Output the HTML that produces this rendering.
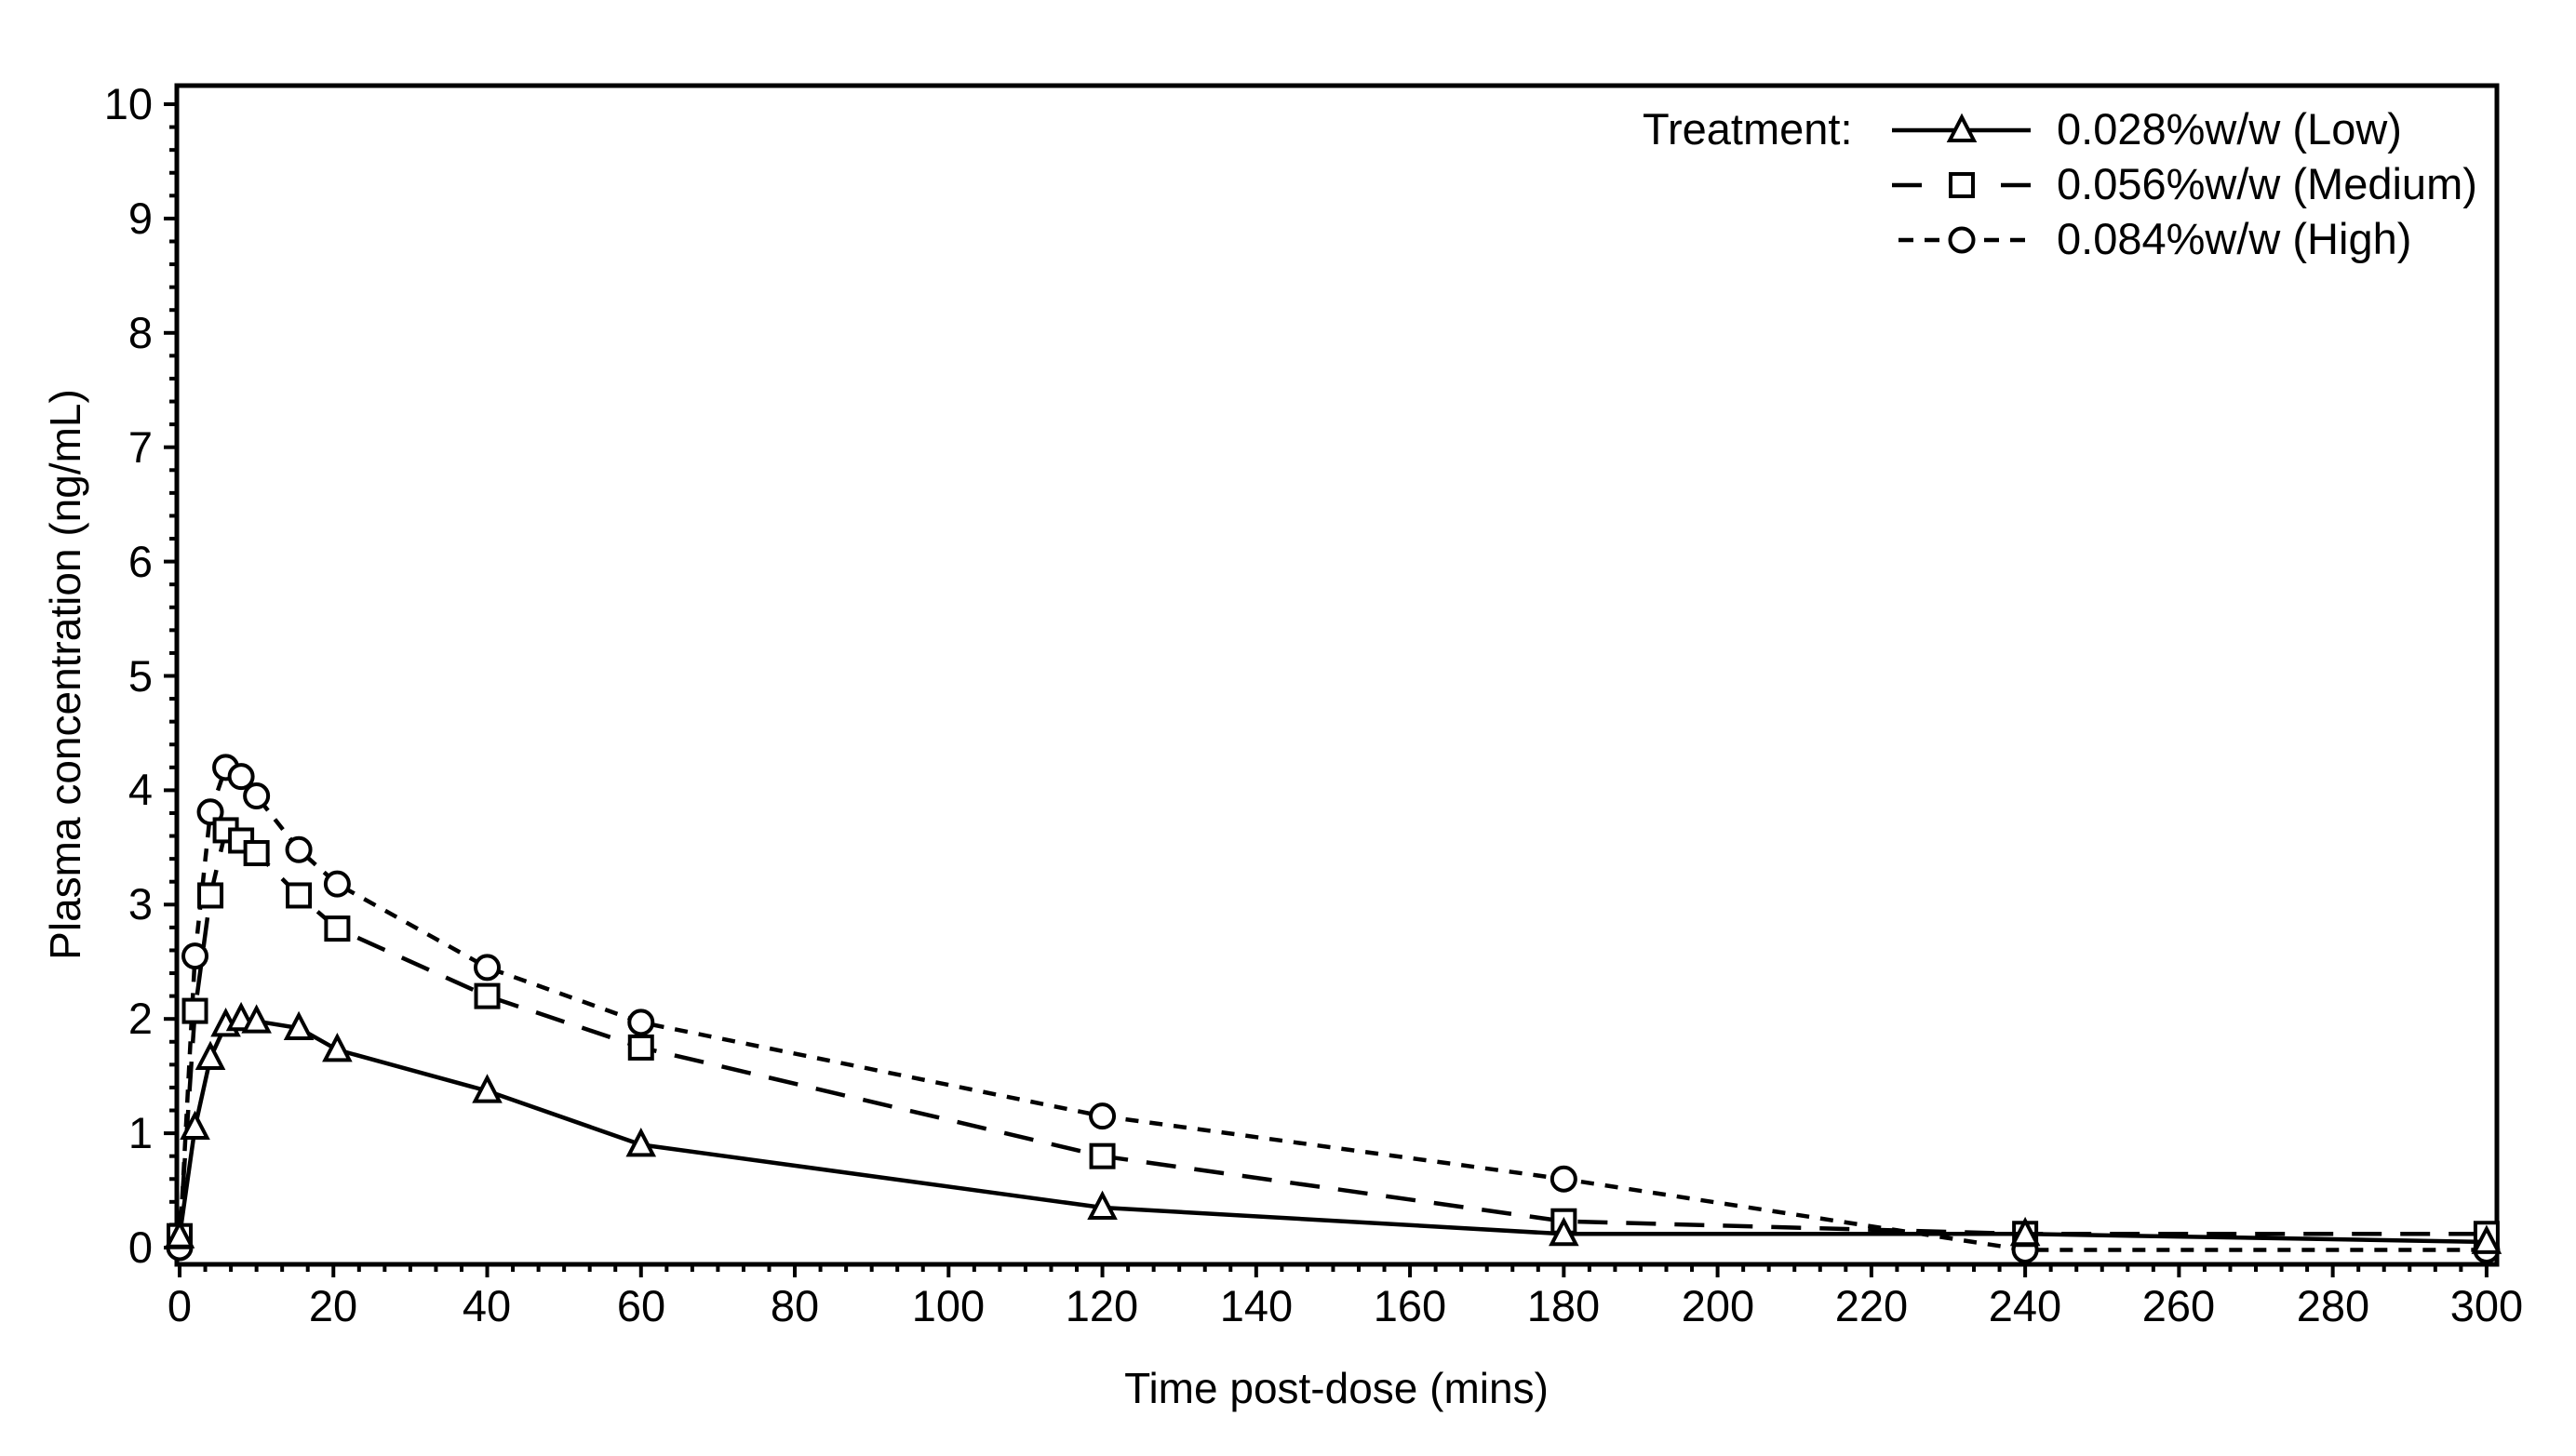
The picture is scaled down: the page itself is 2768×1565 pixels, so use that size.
<!DOCTYPE html>
<html><head><meta charset="utf-8"><style>
html,body{margin:0;padding:0;background:#fff;}
svg{display:block;}
text{font-family:"Liberation Sans",Arial,sans-serif;fill:#000;}
</style></head><body>
<svg id="s" width="2768" height="1565" viewBox="0 0 2768 1565" xmlns="http://www.w3.org/2000/svg">
<rect x="0" y="0" width="2768" height="1565" fill="#fff"/>
<g id="ticks" stroke="#000" stroke-width="4"></g>
<rect x="190" y="92" width="2493" height="1267" fill="none" stroke="#000" stroke-width="5"/>
<g font-size="47" text-anchor="end">
<text x="164" y="1357">0</text><text x="164" y="1234">1</text><text x="164" y="1111">2</text>
<text x="164" y="988">3</text><text x="164" y="865">4</text><text x="164" y="743">5</text>
<text x="164" y="620">6</text><text x="164" y="497">7</text><text x="164" y="374">8</text>
<text x="164" y="251">9</text><text x="164" y="128">10</text>
</g>
<g font-size="47" text-anchor="middle">
<text x="193" y="1420">0</text><text x="358" y="1420">20</text><text x="523" y="1420">40</text>
<text x="689" y="1420">60</text><text x="854" y="1420">80</text><text x="1019" y="1420">100</text>
<text x="1184" y="1420">120</text><text x="1350" y="1420">140</text><text x="1515" y="1420">160</text>
<text x="1680" y="1420">180</text><text x="1846" y="1420">200</text><text x="2011" y="1420">220</text>
<text x="2176" y="1420">240</text><text x="2341" y="1420">260</text><text x="2507" y="1420">280</text>
<text x="2672" y="1420">300</text>
</g>
<text x="1436" y="1508" font-size="46" text-anchor="middle">Time post-dose (mins)</text>
<text transform="translate(86,725) rotate(-90)" font-size="46" text-anchor="middle">Plasma concentration (ng/mL)</text>
<g font-size="47">
<text x="1765" y="155">Treatment:</text>
<text x="2210" y="155">0.028%w/w (Low)</text>
<text x="2210" y="214">0.056%w/w (Medium)</text>
<text x="2210" y="273">0.084%w/w (High)</text>
</g>
<g id="data"></g>
<g id="leg"></g>
</svg>
<script>
var NS="http://www.w3.org/2000/svg";
function X(t){return 193+8.263*t;}
function Y(v){return 1341-122.9*v;}
function el(tag,a,p){var e=document.createElementNS(NS,tag);for(var k in a)e.setAttribute(k,a[k]);p.appendChild(e);return e;}
var tk=document.getElementById('ticks');
for(var i=0;i<=50;i++){var y=Y(i*0.2);var L=(i%5==0)?14:8;el('line',{x1:190-L,y1:y,x2:190,y2:y},tk);}
for(var i=0;i<=90;i++){var x=X(i*20/6);var L=(i%6==0)?14:8;el('line',{x1:x,y1:1359,x2:x,y2:1359+L},tk);}
var T=[0,2,4,6,8,10,15.5,20.5,40,60,120,180,240,300];
var low=[0.1,1.05,1.66,1.95,2.0,1.98,1.92,1.73,1.37,0.9,0.35,0.12,0.12,0.05];
var med=[0.1,2.07,3.08,3.65,3.56,3.45,3.08,2.79,2.2,1.75,0.8,0.23,0.12,0.12];
var hig=[0.0,2.55,3.81,4.2,4.12,3.95,3.48,3.18,2.45,1.97,1.15,0.6,-0.02,-0.02];
var d=document.getElementById('data');
function series(vals,dash,mk){
  var p='';for(var i=0;i<T.length;i++)p+=(i?'L':'M')+X(T[i]).toFixed(1)+' '+Y(vals[i]).toFixed(1);
  var a={d:p,fill:'none',stroke:'#000','stroke-width':4.5};if(dash)a['stroke-dasharray']=dash;
  el('path',a,d);
  for(var i=0;i<T.length;i++)marker(mk,X(T[i]),Y(vals[i]),d);
}
function marker(mk,x,y,p){
  var a={fill:'#fff',stroke:'#000','stroke-width':4};
  if(mk=='t'){a.points=(x-13)+','+(y+11)+' '+(x+13)+','+(y+11)+' '+x+','+(y-14);el('polygon',a,p);}
  else if(mk=='s'){a.x=x-12;a.y=y-12;a.width=24;a.height=24;el('rect',a,p);}
  else {a.cx=x;a.cy=y;a.r=12.5;el('circle',a,p);}
}
series(hig,'14 12','c');
series(med,'32 20','s');
series(low,null,'t');
var g=document.getElementById('leg');
el('line',{x1:2033,y1:140,x2:2182,y2:140,stroke:'#000','stroke-width':4.5},g);marker('t',2108,140,g);
el('line',{x1:2033,y1:199,x2:2065,y2:199,stroke:'#000','stroke-width':4.5},g);
el('line',{x1:2150,y1:199,x2:2182,y2:199,stroke:'#000','stroke-width':4.5},g);marker('s',2108,199,g);
el('path',{d:'M2040 258H2056M2068 258H2084M2132 258H2148M2160 258H2176',stroke:'#000','stroke-width':4.5},g);marker('c',2108,258,g);
</script>
</body></html>
